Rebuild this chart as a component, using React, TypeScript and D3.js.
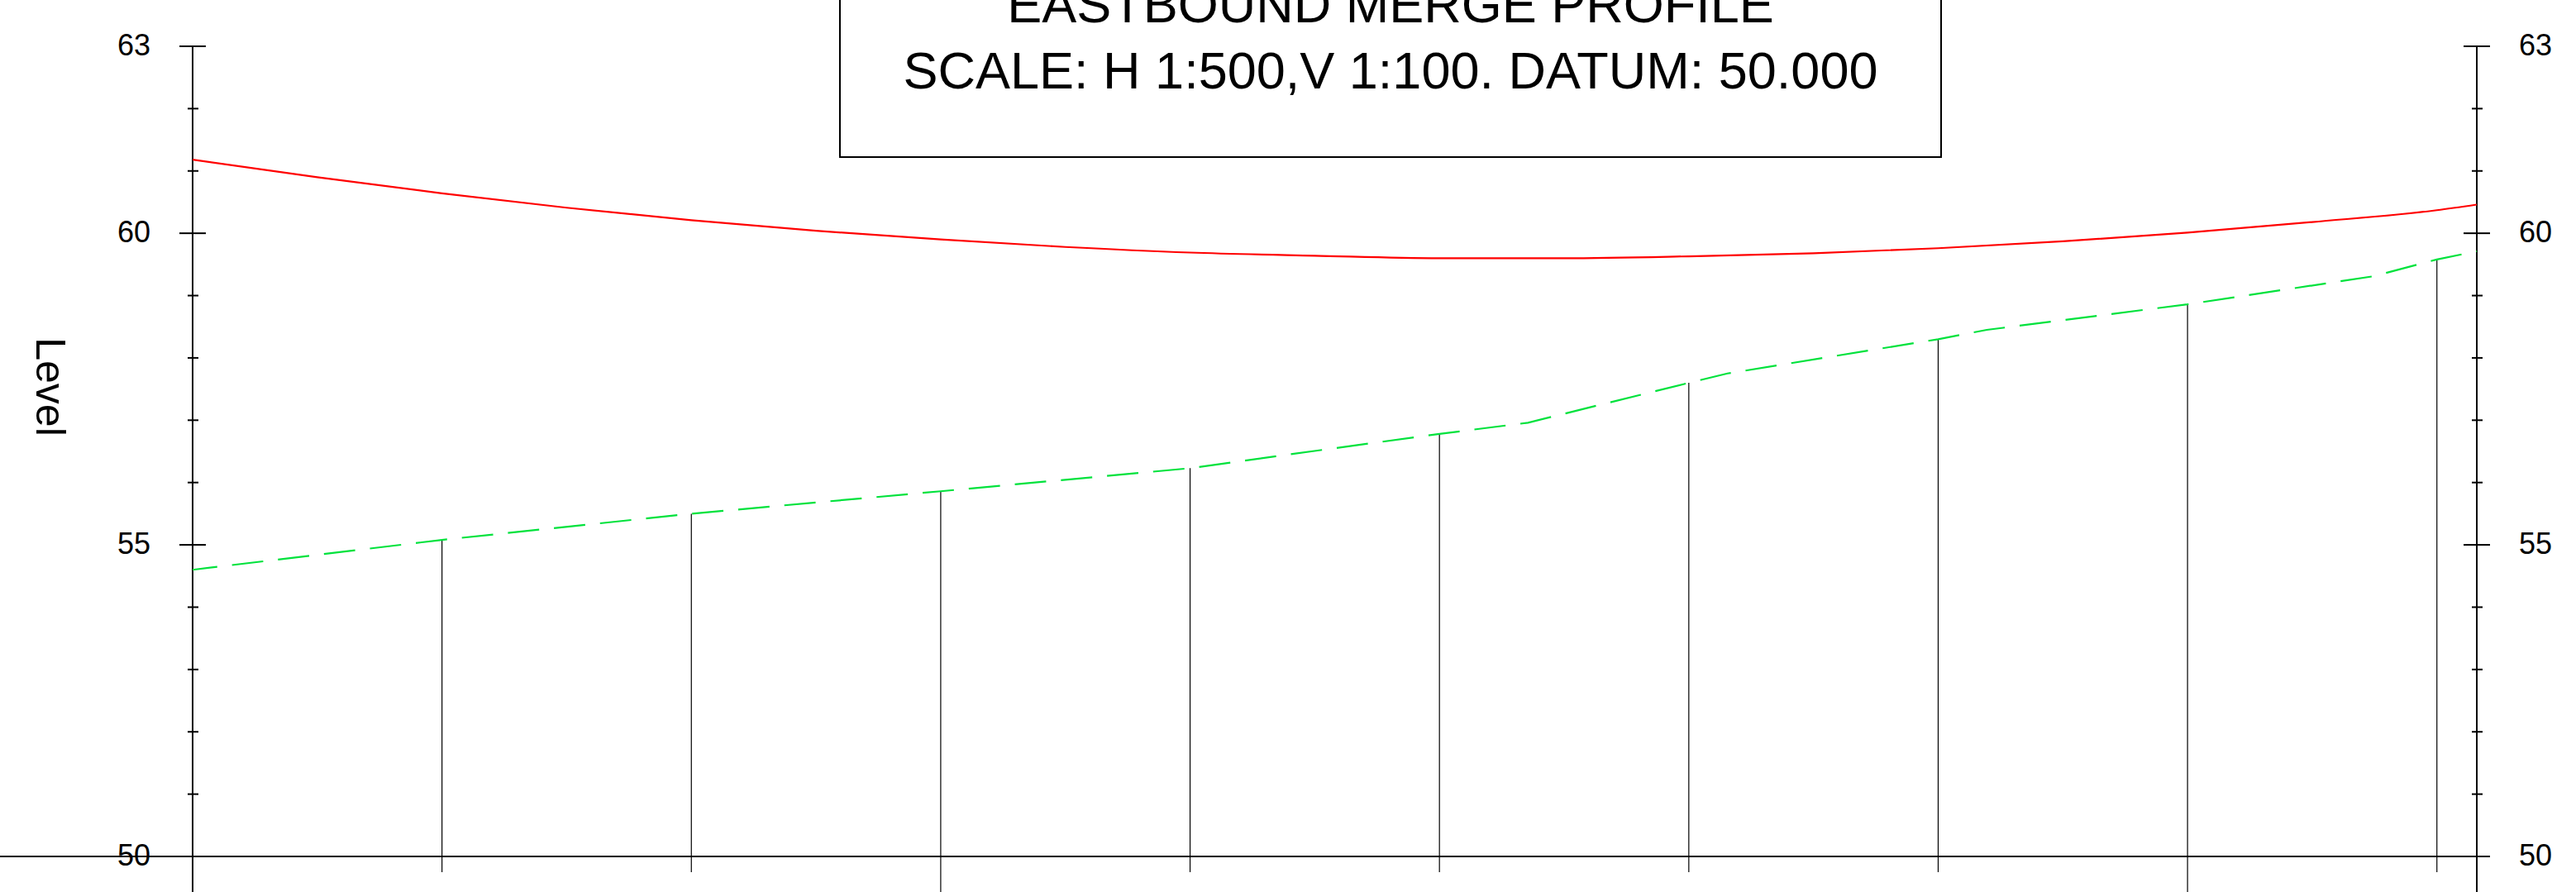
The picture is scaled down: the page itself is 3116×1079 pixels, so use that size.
import * as React from 'react';
import * as d3 from 'd3';

// chainage (m) from the left axis, and levels
const stations = [20, 40, 60, 80, 100, 120, 140, 160, 180];
const longStations = [60, 160];
const endChainage = 183.2;

const designChainage = [0, 10, 20, 30, 40, 50, 60, 70, 80, 90, 100, 110, 120, 130, 140, 150, 160, 170, 180, 183.2];
const designLevel = [61.18, 60.9, 60.64, 60.41, 60.21, 60.04, 59.9, 59.78, 59.69, 59.64, 59.6, 59.6, 59.63, 59.68, 59.76, 59.87, 60.01, 60.18, 60.37, 60.46];

const groundChainage = [0, 20, 40, 60, 80, 90.1, 100, 107.1, 120, 123.1, 140, 143.9, 160, 174.9, 180, 183.2];
const groundLevel = [54.6, 55.08, 55.5, 55.86, 56.23, 56.51, 56.78, 56.96, 57.6, 57.75, 58.3, 58.45, 58.86, 59.31, 59.58, 59.71];

const majorTicks = [63, 60, 55, 50];
const minorTicks = [62, 61, 59, 58, 57, 56, 54, 53, 52, 51];

const titleLines = ['EASTBOUND MERGE PROFILE', 'SCALE: H 1:500,V 1:100. DATUM: 50.000'];

const W = 3116;
const H = 1079;
const font = '"Liberation Sans", Arial, sans-serif';

export default function App() {
  const x = d3.scaleLinear().domain([0, endChainage]).range([233, 2996]);
  const y = d3.scaleLinear().domain([50, 63]).range([1036, 56]);

  const design = designChainage.map((c, i) => [c, designLevel[i]] as [number, number]);
  const ground = groundChainage.map((c, i) => [c, groundLevel[i]] as [number, number]);

  const smooth = d3.line<[number, number]>().x(d => x(d[0])).y(d => y(d[1])).curve(d3.curveMonotoneX);
  const straight = d3.line<[number, number]>().x(d => x(d[0])).y(d => y(d[1]));

  const groundAt = (c: number) => groundLevel[groundChainage.indexOf(c)];

  const xl = x(0);
  const xr = x(endChainage);
  const base = y(50);

  return (
    <svg width={W} height={H} style={{ position: 'absolute', left: 0, top: 0, display: 'block', background: '#fff' }}
      fontFamily={font}>
      {/* title box */}
      <rect x={1016} y={-20} width={1332} height={210} fill="#fff" stroke="#000" strokeWidth={2} />
      {titleLines.map((t, i) => (
        <text key={t} x={1682} y={27 + i * 80} textAnchor="middle" fontSize={63} fill="#000">{t}</text>
      ))}

      {/* datum line */}
      <line x1={0} x2={xr} y1={base} y2={base} stroke="#000" strokeWidth={2} />

      {/* station lines */}
      {stations.map(s => (
        <line key={s} x1={x(s)} x2={x(s)} y1={y(groundAt(s))}
          y2={longStations.includes(s) ? H : base + 19} stroke="#000" strokeWidth={1.2} />
      ))}

      {/* level axes */}
      {[xl, xr].map((ax, k) => (
        <g key={k}>
          <line x1={ax} x2={ax} y1={y(63)} y2={H} stroke="#000" strokeWidth={2} />
          {majorTicks.map(t => (
            <g key={t}>
              <line x1={ax - 16} x2={ax + 16} y1={y(t)} y2={y(t)} stroke="#000" strokeWidth={2} />
              <text x={k === 0 ? ax - 51 : ax + 51} y={y(t)} dy="0.3em" textAnchor={k === 0 ? 'end' : 'start'}
                fontSize={36} fill="#000">{t}</text>
            </g>
          ))}
          {minorTicks.map(t => (
            <line key={t} x1={ax - 6} x2={ax + 7} y1={y(t)} y2={y(t)} stroke="#000" strokeWidth={2} />
          ))}
        </g>
      ))}

      {/* existing ground */}
      <path d={straight(ground) ?? ''} fill="none" stroke="#00e23c" strokeWidth={2.2}
        strokeDasharray="38,18" strokeDashoffset={8} />

      {/* design level */}
      <path d={smooth(design) ?? ''} fill="none" stroke="#ff0000" strokeWidth={2.2} />

      <text transform="translate(44,468) rotate(90)" textAnchor="middle" fontSize={50} fill="#000">Level</text>
    </svg>
  );
}
